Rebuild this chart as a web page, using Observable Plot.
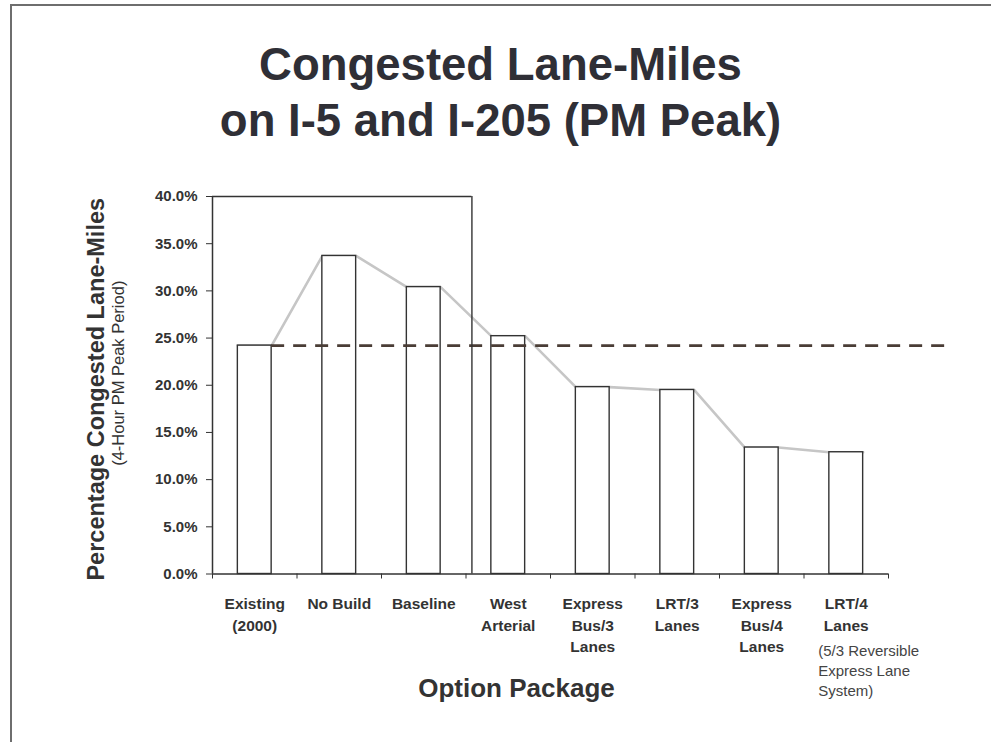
<!DOCTYPE html>
<html>
<head>
<meta charset="utf-8">
<script src="https://cdn.jsdelivr.net/npm/d3@7"></script>
<script src="https://cdn.jsdelivr.net/npm/@observablehq/plot@0.6"></script>
<style>
  html, body { margin: 0; padding: 0; background: #fff; }
  body { width: 991px; height: 742px; position: relative; overflow: hidden; font-family: "Liberation Sans", Arial, sans-serif; }
  #frame { position: absolute; left: 10px; top: 4px; width: 985px; height: 745px; border-top: 2px solid #6e6e6e; border-left: 2px solid #6e6e6e; pointer-events: none; box-sizing: border-box; }
  #title { height: 133px; padding-top: 37px; padding-left: 10px; text-align: center; font-size: 45.5px; line-height: 56px; font-weight: bold; color: #2f2f36; }
  #chart svg { display: block; overflow: visible; }
</style>
</head>
<body>
<div id="frame"></div>
<div id="title">Congested Lane-Miles<br>on I-5 and I-205 (PM Peak)</div>
<div id="chart"></div>
<script>
// ---- data ----
const categories = ["Existing\n(2000)", "No Build", "Baseline", "West\nArterial", "Express\nBus/3\nLanes", "LRT/3\nLanes", "Express\nBus/4\nLanes", "LRT/4\nLanes"];
const values = [24.2, 33.7, 30.4, 25.2, 19.8, 19.5, 13.4, 12.9];
const referenceValue = 24.2;          // existing (2000) level, dashed line
const referenceEnd = 8.67;            // dashed line runs past the last category
const innerBoxRight = 3.07;           // leftover box outline in the original chart
const yTicks = [0, 5, 10, 15, 20, 25, 30, 35, 40];
const lastNote = "(5/3 Reversible\nExpress Lane\nSystem)";
const yLabel = "Percentage Congested Lane-Miles";
const ySubLabel = "(4-Hour PM Peak Period)";
const xLabel = "Option Package";

const barInset = 0.3;
const bars = categories.map((c, i) => ({i, c, x1: i + barInset, x2: i + 1 - barInset, v: values[i]}));
const linePts = bars.flatMap(b => [{x: b.x1, v: b.v}, {x: b.x2, v: b.v}]);
const font = "'Liberation Sans', Arial, sans-serif";
const ink = "#333";

const chart = Plot.plot({
  width: 991,
  height: 572,
  marginLeft: 212,
  marginRight: 103,
  marginTop: 26,
  marginBottom: 168.5,
  style: {fontFamily: font, color: ink, background: "transparent", overflow: "visible"},
  x: {type: "linear", domain: [0, categories.length], axis: null},
  y: {domain: [0, 40], axis: null},
  marks: [
    // gray connector line (behind bars)
    Plot.line(linePts, {x: "x", y: "v", stroke: "#c6c6c6", strokeWidth: 2.6}),
    // bars
    Plot.rectY(bars, {x1: "x1", x2: "x2", y: "v", fill: "white", stroke: ink, strokeWidth: 1.4}),
    // dashed reference line
    Plot.ruleY([referenceValue], {x1: bars[0].x2, x2: referenceEnd, stroke: "#4a3d36", strokeWidth: 2.8, strokeDasharray: "13,9"}),
    // leftover box outline
    Plot.ruleY([40], {x1: 0, x2: innerBoxRight, stroke: ink, strokeWidth: 1.4}),
    Plot.ruleX([innerBoxRight], {y1: 0, y2: 40, stroke: ink, strokeWidth: 1.4}),
    // axes lines
    Plot.ruleX([0], {y1: 0, y2: 40, stroke: ink, strokeWidth: 1.5}),
    Plot.ruleY([0], {x1: 0, x2: categories.length, stroke: ink, strokeWidth: 1.5}),
    Plot.axisY({ticks: yTicks, tickFormat: d => d.toFixed(1) + "%", tickSize: 6, tickPadding: 9, fontSize: 15, fontWeight: "bold", stroke: ink, fill: ink, label: null}),
    Plot.axisX({ticks: d3.range(0, categories.length + 1), tickSize: 5, tickFormat: () => "", stroke: ink, label: null}),
    // category labels
    Plot.text(bars, {x: d => d.i + 0.5, frameAnchor: "bottom", text: "c", lineAnchor: "top", dy: 20, lineHeight: 1.39, fontSize: 15.5, fontWeight: "bold", fill: ink}),
    Plot.text([lastNote], {x: categories.length - 0.5, frameAnchor: "bottom", text: d => d, textAnchor: "start", lineAnchor: "top", dx: -28, dy: 67.8, lineHeight: 1.333, fontSize: 15, fill: "#444"}),
    // axis titles
    Plot.text([xLabel], {frameAnchor: "bottom", text: d => d, lineAnchor: "top", dx: -34, dy: 105, fontSize: 26, fontWeight: "bold", fill: ink}),
    Plot.text([yLabel], {frameAnchor: "left", text: d => d, rotate: -90, textAnchor: "middle", lineAnchor: "middle", dx: -116.5, dy: 4, fontSize: 23.5, fontWeight: "bold", fill: ink}),
    Plot.text([ySubLabel], {frameAnchor: "left", text: d => d, rotate: -90, textAnchor: "middle", lineAnchor: "middle", dx: -94, dy: -12, fontSize: 16.5, fill: ink})
  ]
});
document.getElementById("chart").appendChild(chart);
</script>
</body>
</html>
